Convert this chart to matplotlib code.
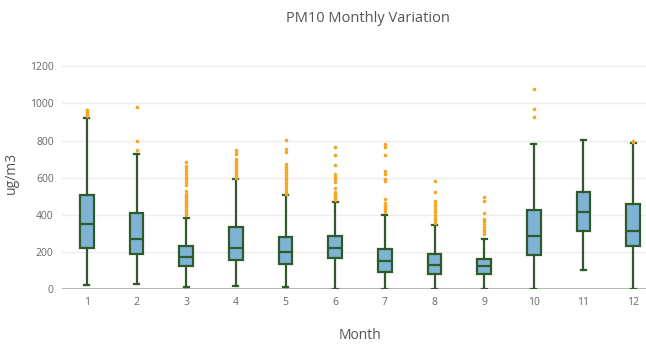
import matplotlib
matplotlib.use("Agg")
import matplotlib.pyplot as plt

plt.rcParams['font.family'] = ['Open Sans', 'DejaVu Sans']

months = [1, 2, 3, 4, 5, 6, 7, 8, 9, 10, 11, 12]
whislo = [24, 29, 9, 18, 9, 0, 0, 0, 0, 0, 102, 0]
q1 = [221, 187, 122, 157, 135, 165, 94, 79, 81, 185, 311, 230]
med = [350, 268, 171, 223, 201, 223, 151, 128, 122, 286, 417, 315]
q3 = [507, 408, 230, 333, 282, 286, 216, 191, 160, 424, 523, 457]
whishi = [922, 728, 385, 595, 505, 467, 401, 343, 270, 780, 801, 784]
fliers = [
    [930, 940, 948, 955, 962, 967],
    [751, 798, 978],
    [400, 410, 420, 430, 440, 450, 460, 470, 480, 490, 500, 510, 530,
     560, 575, 590, 605, 620, 635, 650, 665, 685],
    [600, 610, 620, 630, 640, 650, 660, 670, 680, 690, 700, 725, 735, 748],
    [512, 525, 540, 555, 570, 585, 600, 615, 630, 645, 660, 676, 740, 753, 802],
    [478, 490, 500, 512, 525, 543, 575, 590, 605, 622, 667, 721, 765],
    [415, 425, 435, 445, 455, 465, 484, 580, 590, 620, 634, 720, 765, 780],
    [356, 370, 385, 400, 415, 430, 445, 460, 475, 523, 582],
    [299, 310, 320, 335, 350, 365, 379, 410, 474, 496],
    [927, 970, 1078],
    [],
    [790, 800],
]

stats = []
for i in range(len(months)):
    stats.append(dict(whislo=whislo[i], q1=q1[i], med=med[i], q3=q3[i],
                      whishi=whishi[i], fliers=fliers[i]))

fig = plt.figure(figsize=(6.46, 3.48), dpi=100)
ax = fig.add_axes([62 / 646, 59 / 348, 596 / 646, 232 / 348])

edge = '#2f5a2a'
ax.bxp(stats, positions=months, widths=0.27, patch_artist=True,
       boxprops=dict(facecolor='#7fb3d5', edgecolor=edge, linewidth=1.6),
       medianprops=dict(color=edge, linewidth=1.6),
       whiskerprops=dict(color=edge, linewidth=1.6),
       capprops=dict(color=edge, linewidth=1.6),
       capwidths=0.1,
       flierprops=dict(marker='o', markersize=2.6, markerfacecolor='#f5a623',
                       markeredgecolor='none'))

ax.set_xlim(0.5, 12.5)
ax.set_ylim(0, 1250)
ax.set_yticks([0, 200, 400, 600, 800, 1000, 1200])
ax.set_xticks(months)
ax.set_xticklabels([str(m) for m in months])
ax.grid(axis='y', color='#eeeeee', linewidth=1)
ax.set_axisbelow(True)
ax.axhline(0, color='#999999', linewidth=1.2, zorder=0.5)
for s in ax.spines.values():
    s.set_visible(False)
ax.tick_params(length=0, colors='#666666', labelsize=7.5, pad=6)

ax.set_ylabel('ug/m3', fontsize=10, color='#555555', labelpad=8)
ax.set_xlabel('Month', fontsize=10, color='#555555', labelpad=14)
fig.text(368 / 646, 1 - 18 / 348, 'PM10 Monthly Variation', ha='center',
         va='center', fontsize=10.5, color='#555555')

fig.savefig('out.png', dpi=100)
